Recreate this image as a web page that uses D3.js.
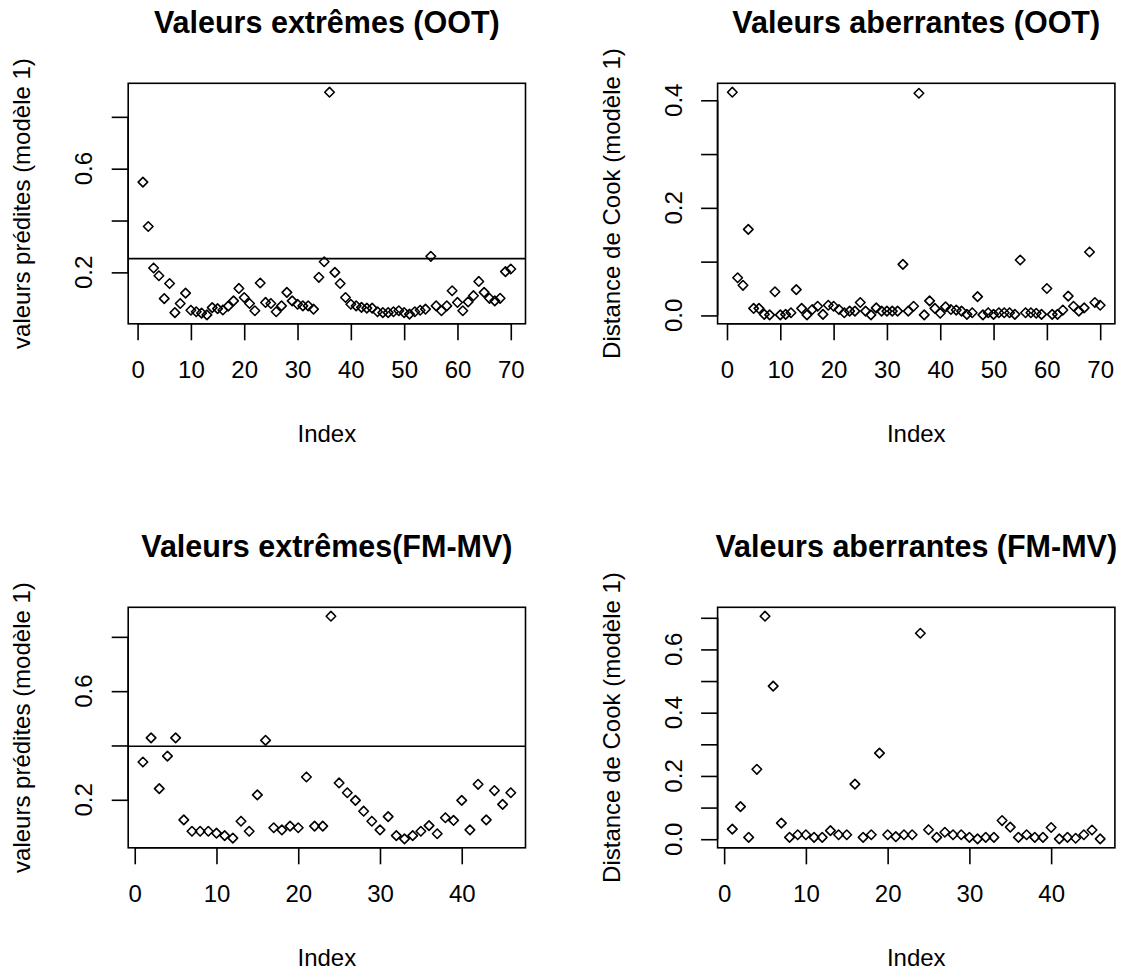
<!DOCTYPE html>
<html>
<head>
<meta charset="utf-8">
<script src="https://cdn.jsdelivr.net/npm/d3@7"></script>
<style>
html,body{margin:0;padding:0;background:#fff;}
svg{display:block;}
text{font-family:"Liberation Sans",Arial,sans-serif;fill:#000;}
</style>
</head>
<body>
<svg id="chart" width="1125" height="975"></svg>
<script>
// ---- data ----
const titles = ["Valeurs extrêmes (OOT)", "Valeurs aberrantes (OOT)", "Valeurs extrêmes(FM-MV)", "Valeurs aberrantes (FM-MV)"];
const yLabels = ["valeurs prédites (modèle 1)", "Distance de Cook (modèle 1)", "valeurs prédites (modèle 1)", "Distance de Cook (modèle 1)"];
const xLabel = "Index";

const predOOT = [0.548,0.377,0.217,0.187,0.099,0.157,0.045,0.080,0.120,0.054,
  0.048,0.043,0.036,0.064,0.060,0.055,0.070,0.090,0.138,0.103,
  0.080,0.052,0.159,0.084,0.080,0.048,0.071,0.123,0.090,0.077,
  0.071,0.071,0.058,0.181,0.241,0.895,0.200,0.157,0.103,0.077,
  0.071,0.065,0.062,0.062,0.048,0.045,0.045,0.048,0.052,0.045,
  0.039,0.048,0.054,0.058,0.262,0.071,0.052,0.071,0.129,0.084,
  0.052,0.086,0.110,0.165,0.123,0.100,0.090,0.100,0.203,0.213];
const cookOOT = [0.415,0.070,0.056,0.160,0.013,0.013,0.002,0.001,0.044,0.001,
  0.002,0.005,0.048,0.013,0.001,0.011,0.017,0.002,0.019,0.017,
  0.011,0.005,0.008,0.008,0.024,0.008,0.001,0.014,0.008,0.008,
  0.008,0.008,0.095,0.008,0.017,0.413,0.001,0.027,0.013,0.004,
  0.016,0.011,0.010,0.008,0.002,0.005,0.035,0.001,0.005,0.002,
  0.005,0.005,0.005,0.002,0.103,0.005,0.005,0.004,0.002,0.050,
  0.002,0.002,0.010,0.036,0.017,0.008,0.014,0.118,0.024,0.019];
const predFM = [0.339,0.428,0.241,0.361,0.428,0.126,0.084,0.084,0.084,0.077,
  0.068,0.059,0.121,0.084,0.218,0.419,0.097,0.089,0.103,0.097,
  0.284,0.103,0.103,0.876,0.262,0.226,0.198,0.158,0.121,0.089,
  0.138,0.068,0.056,0.068,0.084,0.105,0.075,0.134,0.124,0.198,
  0.089,0.257,0.126,0.234,0.183,0.226];
const cookFM = [0.032,0.103,0.006,0.221,0.705,0.484,0.051,0.006,0.014,0.014,
  0.006,0.006,0.027,0.014,0.014,0.174,0.006,0.014,0.272,0.014,
  0.008,0.014,0.014,0.651,0.030,0.006,0.022,0.014,0.014,0.006,
  0.001,0.006,0.006,0.059,0.038,0.006,0.014,0.006,0.006,0.037,
  0.001,0.006,0.003,0.014,0.029,0.001];

const hLineOOT = 0.253;
const hLineFM = 0.397;

const xTicksOOT = [0,10,20,30,40,50,60,70];
const xTicksFM = [0,10,20,30,40];
const yTicksPred = [0.2,0.4,0.6,0.8];
const yLabelsPred = [0.2,0.6];
const yTicksCookOOT = [0.0,0.1,0.2,0.3,0.4];
const yLabelsCookOOT = [0.0,0.2,0.4];
const yTicksCookFM = [0.0,0.1,0.2,0.3,0.4,0.5,0.6,0.7];
const yLabelsCookFM = [0.0,0.2,0.4,0.6];

const panels = [
  {values: predOOT, hline: hLineOOT, xt: xTicksOOT, yt: yTicksPred, yl: yLabelsPred},
  {values: cookOOT, hline: null, xt: xTicksOOT, yt: yTicksCookOOT, yl: yLabelsCookOOT},
  {values: predFM, hline: hLineFM, xt: xTicksFM, yt: yTicksPred, yl: yLabelsPred},
  {values: cookFM, hline: null, xt: xTicksFM, yt: yTicksCookFM, yl: yLabelsCookFM}
];

// ---- layout ----
const colLeft = [128.2, 717.6];
const rowTop = [83.3, 607.3];
const boxW = 397.3, boxH = 240.5;
const tickLen = 16.5;
const svg = d3.select("#chart");

function padded(ext){ const r = ext[1]-ext[0]; return [ext[0]-0.04*r, ext[1]+0.04*r]; }

panels.forEach((p, k) => {
  const left = colLeft[k%2], top = rowTop[Math.floor(k/2)];
  const right = left + boxW, bottom = top + boxH;
  const n = p.values.length;
  const x = d3.scaleLinear().domain(padded([1, n])).range([left, right]);
  const y = d3.scaleLinear().domain(padded(d3.extent(p.values))).range([bottom, top]);
  const g = svg.append("g");

  // x axis
  const xa = g.append("g").attr("transform", `translate(0,${bottom})`)
    .call(d3.axisBottom(x).tickValues(p.xt).tickSize(tickLen).tickPadding(0).tickFormat(d3.format("d")));
  xa.select(".domain").attr("d", `M${x(p.xt[0])},0H${x(p.xt[p.xt.length-1])}`).attr("stroke-width",1.6);
  xa.selectAll(".tick line").attr("stroke-width",1.6);
  xa.selectAll(".tick text").attr("dy", null).attr("y", 54).attr("font-size", 24).attr("fill","#111");

  // y axis
  const ya = g.append("g").attr("transform", `translate(${left},0)`)
    .call(d3.axisLeft(y).tickValues(p.yt).tickSize(tickLen).tickFormat(""));
  ya.select(".domain").attr("d", `M0,${y(p.yt[0])}V${y(p.yt[p.yt.length-1])}`).attr("stroke-width",1.6);
  ya.selectAll(".tick line").attr("stroke-width",1.6);
  g.selectAll(".ylab").data(p.yl).enter().append("text")
    .attr("transform", d => `translate(${left-36},${y(d)}) rotate(-90)`)
    .attr("text-anchor","middle").attr("font-size",24).attr("fill","#111")
    .text(d => d3.format(".1f")(d));

  // box
  g.append("rect").attr("x", left).attr("y", top).attr("width", boxW).attr("height", boxH)
    .attr("fill","none").attr("stroke","#000").attr("stroke-width",1.6);

  // horizontal reference line
  if (p.hline !== null) {
    g.append("line").attr("x1", left).attr("x2", right).attr("y1", y(p.hline)).attr("y2", y(p.hline))
      .attr("stroke","#000").attr("stroke-width",1.6);
  }

  // points
  const sym = d3.symbol().type(d3.symbolDiamond2).size(58);
  g.selectAll(".pt").data(p.values).enter().append("path")
    .attr("d", sym)
    .attr("transform", (d,i) => `translate(${x(i+1)},${y(d)})`)
    .attr("fill","none").attr("stroke","#000").attr("stroke-width",1.6).attr("stroke-linejoin","round");

  // titles and labels
  const cx = (left+right)/2;
  g.append("text").attr("x", cx).attr("y", top-50).attr("text-anchor","middle")
    .attr("font-size",30.5).attr("font-weight","bold").text(titles[k]);
  g.append("text").attr("x", cx).attr("y", bottom+118).attr("text-anchor","middle")
    .attr("font-size",24).attr("fill","#111").text(xLabel);
  g.append("text").attr("transform", `translate(${left-98},${(top+bottom)/2}) rotate(-90)`)
    .attr("text-anchor","middle").attr("font-size",24).attr("fill","#111").text(yLabels[k]);
});
</script>
</body>
</html>
